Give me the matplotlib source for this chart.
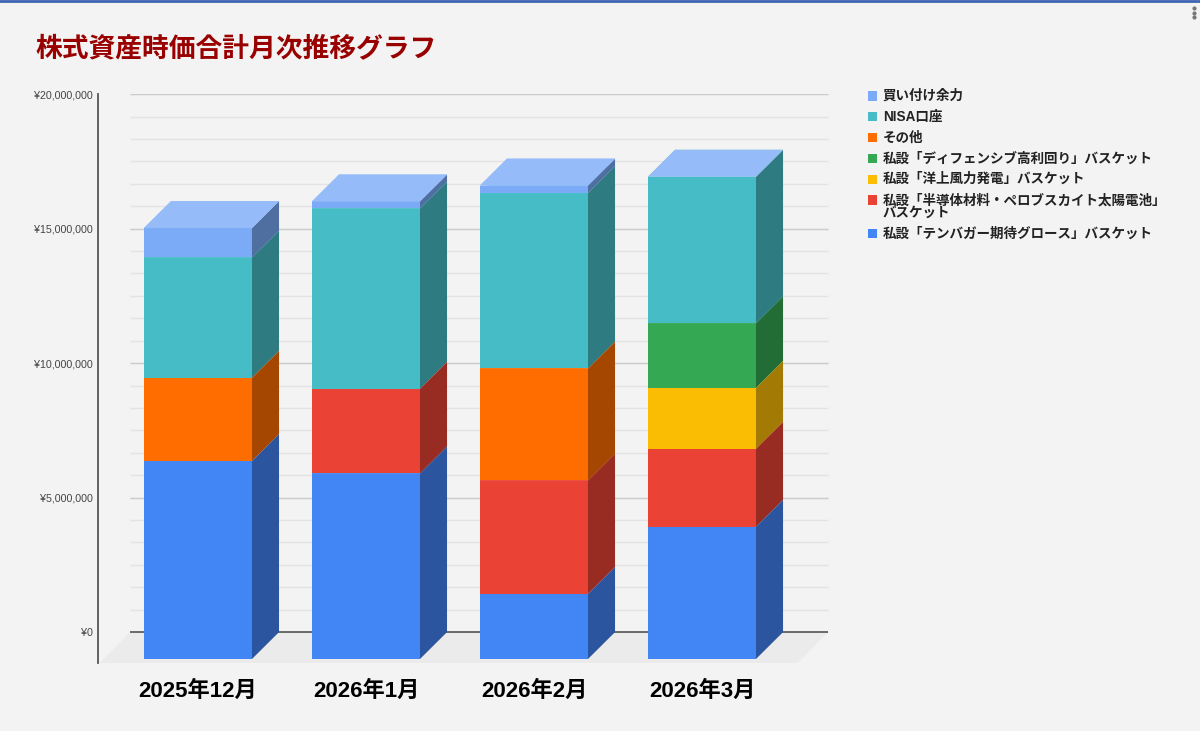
import numpy as np
import matplotlib
matplotlib.use("Agg")
import matplotlib.pyplot as plt
import matplotlib.colors as mcolors
from matplotlib.patches import Polygon, Rectangle
from matplotlib.lines import Line2D

plt.rcParams["font.family"] = ["Liberation Sans", "Noto Sans CJK JP", "DejaVu Sans"]

# ---- data (yen), stacked bottom -> top ----
months = ["2025年12月", "2026年1月", "2026年2月", "2026年3月"]

tenbagger = [7_360_000, 6_900_000, 2_420_000, 4_920_000]
semicon = [0, 3_150_000, 4_220_000, 2_900_000]
wind = [0, 0, 0, 2_260_000]
defensive = [0, 0, 0, 2_400_000]
other = [3_100_000, 0, 4_160_000, 0]
nisa = [4_470_000, 6_700_000, 6_520_000, 5_450_000]
cash = [1_090_000, 260_000, 280_000, 0]

series_names = [
    "私設「テンバガー期待グロース」バスケット",
    "私設「半導体材料・ペロブスカイト太陽電池」\nバスケット",
    "私設「洋上風力発電」バスケット",
    "私設「ディフェンシブ高利回り」バスケット",
    "その他",
    "NISA口座",
    "買い付け余力",
]
series_values = [tenbagger, semicon, wind, defensive, other, nisa, cash]
series_colors = ["#4285f4", "#ea4335", "#fbbc04", "#34a853", "#ff6d01", "#46bdc6", "#7baaf7"]

y_ticks = [0, 5_000_000, 10_000_000, 15_000_000, 20_000_000]

# ---- 3d look parameters ----
W, H = 1200, 731
bar_w = 0.643          # front face width (category units)
depth_x = 0.161        # side face depth in x
depth_y = 1_000_000    # back wall offset in y (yen)
wall_x0, wall_x1 = -0.405, 3.75
floor_dx = 0.179
floor_front = -149_000


def shade(c, f):
    r, g, b = mcolors.to_rgb(c)
    return (r * f, g * f, b * f)


def tint(c, f):
    r, g, b = mcolors.to_rgb(c)
    return (r + (1 - r) * f, g + (1 - g) * f, b + (1 - b) * f)


fig = plt.figure(figsize=(W / 100, H / 100), dpi=100)
fig.patch.set_facecolor("#f3f3f3")
ax = fig.add_axes([98 / W, (H - 663) / H, 732 / W, 569 / H])
ax.set_facecolor("none")
ax.set_xlim(-0.595, 3.762)
ax.set_ylim(floor_front, 21_004_000)

# floor
ax.add_patch(Polygon([(wall_x0 - floor_dx, floor_front), (wall_x1 - floor_dx, floor_front),
                      (wall_x1, depth_y), (wall_x0, depth_y)],
                     closed=True, facecolor="#ebebeb", edgecolor="none", zorder=1))

# back wall gridlines
minor = np.arange(0, 20_000_001, 5_000_000 / 6)
ax.hlines(minor + depth_y, wall_x0, wall_x1, color="#e3e3e3", lw=1, zorder=1)
ax.hlines(np.array(y_ticks[1:]) + depth_y, wall_x0, wall_x1, color="#cccccc", lw=1, zorder=1)
ax.hlines(depth_y, wall_x0, wall_x1, color="#555555", lw=1.2, zorder=1)

# stacked 3d bars
x = np.arange(len(months))
bottom = np.zeros(len(months))
for vals, col in zip(series_values, series_colors):
    vals = np.array(vals, dtype=float)
    ax.bar(x, vals, bar_w, bottom=bottom, color=col, linewidth=0, zorder=3)
    for j in range(len(months)):
        if vals[j] <= 0:
            continue
        x1 = x[j] + bar_w / 2
        x0 = x[j] - bar_w / 2
        b, t = bottom[j], bottom[j] + vals[j]
        ax.add_patch(Polygon([(x1, b), (x1, t), (x1 + depth_x, t + depth_y), (x1 + depth_x, b + depth_y)],
                             closed=True, facecolor=shade(col, 0.65), edgecolor="none", zorder=3))
        ax.add_patch(Polygon([(x0, t), (x1, t), (x1 + depth_x, t + depth_y), (x0 + depth_x, t + depth_y)],
                             closed=True, facecolor=tint(col, 0.2), edgecolor="none", zorder=3))
    bottom = bottom + vals

# lid of each bar takes the colour of the top series
for j in range(len(months)):
    x0 = x[j] - bar_w / 2
    x1 = x[j] + bar_w / 2
    t = bottom[j]
    ax.add_patch(Polygon([(x0, t), (x1, t), (x1 + depth_x, t + depth_y), (x0 + depth_x, t + depth_y)],
                         closed=True, facecolor=tint(series_colors[-1], 0.2), edgecolor="none", zorder=4))

# axes styling
for s in ["top", "right", "bottom"]:
    ax.spines[s].set_visible(False)
ax.spines["left"].set_color("#555555")
ax.spines["left"].set_linewidth(1.3)
ax.set_yticks(np.array(y_ticks) + depth_y, [f"¥{v:,}" for v in y_ticks])
ax.tick_params(axis="y", length=0, pad=4, labelsize=7.7, labelcolor="#444444")
ax.set_xticks(x, months)
ax.tick_params(axis="x", length=0, pad=13, labelsize=16)
for lab in ax.get_xticklabels():
    lab.set_fontweight("bold")

# title
fig.text(35 / W, 1 - 48 / H, "株式資産時価合計月次推移グラフ", ha="left", va="center",
         fontsize=19.3, fontweight="bold", color="#990000",
         family=["Noto Sans CJK JP", "DejaVu Sans"])

# legend (top series first)
ly = 96
for name, col in zip(series_names[::-1], series_colors[::-1]):
    fig.add_artist(Rectangle((868 / W, 1 - (ly + 4.5) / H), 9 / W, 9 / H,
                             transform=fig.transFigure, facecolor=col, edgecolor="none"))
    for k, line in enumerate(name.split("\n")):
        fig.text(883 / W, 1 - (ly + 13 * k) / H, line, ha="left", va="center",
                 fontsize=9.75, fontweight="bold", color="#222222")
    ly += 20.8 + 13 * name.count("\n")

# sheet selection frame bits
fig.add_artist(Line2D([0, 1], [1 - 1 / H, 1 - 1 / H], color="#3d64b4", lw=2, transform=fig.transFigure))
for dy in (8, 12.5, 17):
    fig.add_artist(Line2D([1194 / W], [1 - dy / H], marker="o", markersize=2, color="#777777",
                          transform=fig.transFigure))

fig.savefig("out.png", dpi=100, facecolor=fig.get_facecolor())
